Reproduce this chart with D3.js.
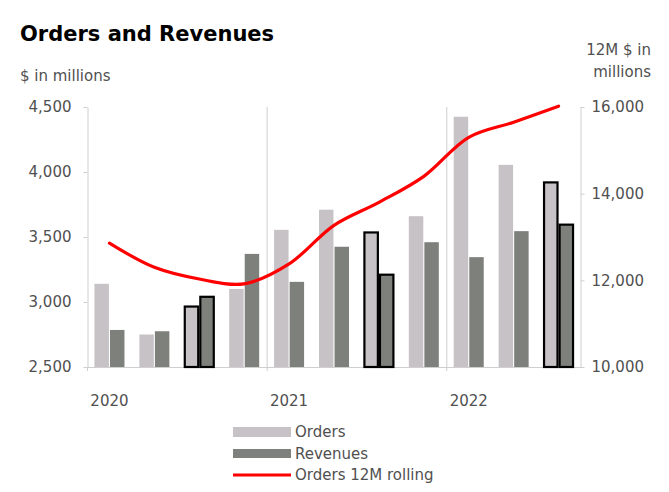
<!DOCTYPE html>
<html>
<head>
<meta charset="utf-8">
<script src="https://cdn.jsdelivr.net/npm/d3@7"></script>
<style>
  html, body { margin: 0; padding: 0; background: #fff; }
  svg { display: block; font-family: "DejaVu Sans", sans-serif; }
</style>
</head>
<body>
<svg id="chart" width="669" height="492"></svg>
<script>
// ---- data ----
const categories = ["Q1 2020","Q2 2020","Q3 2020","Q4 2020",
                    "Q1 2021","Q2 2021","Q3 2021","Q4 2021",
                    "Q1 2022","Q2 2022","Q3 2022"];
const xTickLabels = ["2020","","","","2021","","","","2022","",""];
const orders   = [3140, 2750, 2965, 3100, 3555, 3710, 3535, 3660, 4425, 4055, 3920];
const revenues = [2785, 2775, 3040, 3370, 3155, 3425, 3210, 3460, 3345, 3545, 3595];
const orders12M = [12860, 12300, 12030, 11920, 12380, 13270, 13800, 14400, 15300, 15650, 16020];
const highlighted = ["Q3 2020","Q3 2021","Q3 2022"];
const leftTicks = [2500, 3000, 3500, 4000, 4500];
const rightTicks = [10000, 12000, 14000, 16000];
const yearBoundaries = ["Q1 2020","Q1 2021","Q1 2022"];
const seriesNames = ["Orders","Revenues","Orders 12M rolling"];

(function () {
// ---- layout ----
const svg = d3.select("#chart");
const pLeft = 87, pRight = 581, pTop = 107, pBottom = 367;
const textColor = "#505050";
const axisColor = "#cfcfcf";
const colOrders = "#c6c2c5";
const colRev = "#7e807c";

const x = d3.scaleBand().domain(categories).range([pLeft, pRight]).padding(0);
const yL = d3.scaleLinear().domain([2500, 4500]).range([pBottom, pTop]);
const yR = d3.scaleLinear().domain([10000, 16000]).range([pBottom, pTop]);
const x1 = d3.scaleBand().domain(["o","r"]).range([-15, 15]).paddingInner(0.07);

// title
svg.append("text").attr("x", 20).attr("y", 41)
  .style("font-weight", "bold").style("font-size", "21px").attr("fill", "#000")
  .text("Orders and Revenues");
svg.append("text").attr("x", 20).attr("y", 81)
  .style("font-size", "15px").attr("fill", textColor).text("$ in millions");
svg.append("text").attr("x", 651).attr("y", 55).attr("text-anchor", "end")
  .style("font-size", "15px").attr("fill", textColor).text("12M $ in");
svg.append("text").attr("x", 651).attr("y", 77).attr("text-anchor", "end")
  .style("font-size", "15px").attr("fill", textColor).text("millions");

// vertical gridlines at year boundaries
svg.append("g").selectAll("line").data(yearBoundaries.slice(1)).join("line")
  .attr("x1", d => x(d) + 0.5).attr("x2", d => x(d) + 0.5)
  .attr("y1", pTop).attr("y2", pBottom)
  .attr("stroke", axisColor).attr("stroke-width", 1);

// left axis
const gL = svg.append("g").attr("transform", `translate(${pLeft + 0.5},0)`)
  .call(d3.axisLeft(yL).tickValues(leftTicks).tickSize(4).tickSizeOuter(0).tickPadding(12)
    .tickFormat(d3.format(",")));
gL.select(".domain").attr("stroke", axisColor);
gL.selectAll(".tick line").attr("stroke", axisColor);
gL.selectAll("text").style("font-size", "15px").attr("fill", textColor)
  .style("font-family", "DejaVu Sans, sans-serif");

// right axis
const gR = svg.append("g").attr("transform", `translate(${pRight - 0.5},0)`)
  .call(d3.axisRight(yR).tickValues(rightTicks).tickSize(4).tickSizeOuter(0).tickPadding(7)
    .tickFormat(d3.format(",")));
gR.select(".domain").attr("stroke", axisColor);
gR.selectAll(".tick line").attr("stroke", axisColor);
gR.selectAll("text").style("font-size", "15px").attr("fill", textColor)
  .style("font-family", "DejaVu Sans, sans-serif");

// bottom axis line + ticks at year boundaries
svg.append("line").attr("x1", pLeft).attr("x2", pRight)
  .attr("y1", pBottom + 0.5).attr("y2", pBottom + 0.5).attr("stroke", axisColor);
svg.append("g").selectAll("line").data(yearBoundaries).join("line")
  .attr("x1", d => x(d) + 0.5).attr("x2", d => x(d) + 0.5)
  .attr("y1", pBottom).attr("y2", pBottom + 4).attr("stroke", axisColor);
svg.append("g").selectAll("text").data(categories).join("text")
  .attr("x", d => x(d) + x.bandwidth() / 2)
  .attr("y", 406).attr("text-anchor", "middle")
  .style("font-size", "15px").attr("fill", textColor)
  .text((d, i) => xTickLabels[i]);

// bars
const bars = svg.append("g");
categories.forEach((c, i) => {
  const cx = x(c) + x.bandwidth() / 2;
  const hl = highlighted.includes(c);
  [["o", orders[i], colOrders], ["r", revenues[i], colRev]].forEach(([k, v, col]) => {
    const bx = cx + x1(k);
    const by = yL(v);
    const r = bars.append("rect")
      .attr("x", hl ? bx + 0.5 : bx)
      .attr("width", hl ? x1.bandwidth() - 1 : x1.bandwidth())
      .attr("y", by)
      .attr("height", pBottom - by)
      .attr("fill", col);
    if (hl) r.attr("stroke", "#000").attr("stroke-width", 2.2);
  });
});

// line
const line = d3.line()
  .x((d, i) => x(categories[i]) + x.bandwidth() / 2)
  .y(d => yR(d))
  .curve(d3.curveCatmullRom.alpha(0.5));
svg.append("path").datum(orders12M)
  .attr("d", line).attr("fill", "none")
  .attr("stroke", "#ff0000").attr("stroke-width", 3.2)
  .attr("stroke-linecap", "round");

// legend
const lg = svg.append("g");
lg.append("rect").attr("x", 233).attr("y", 427).attr("width", 58).attr("height", 10).attr("fill", colOrders);
lg.append("rect").attr("x", 233).attr("y", 449).attr("width", 58).attr("height", 9).attr("fill", colRev);
lg.append("line").attr("x1", 233).attr("x2", 291).attr("y1", 475).attr("y2", 475)
  .attr("stroke", "#ff0000").attr("stroke-width", 3);
[437, 459, 480].forEach((yy, i) => {
  lg.append("text").attr("x", 295).attr("y", yy)
    .style("font-size", "15px").attr("fill", textColor).text(seriesNames[i]);
});
})();
</script>
</body>
</html>
